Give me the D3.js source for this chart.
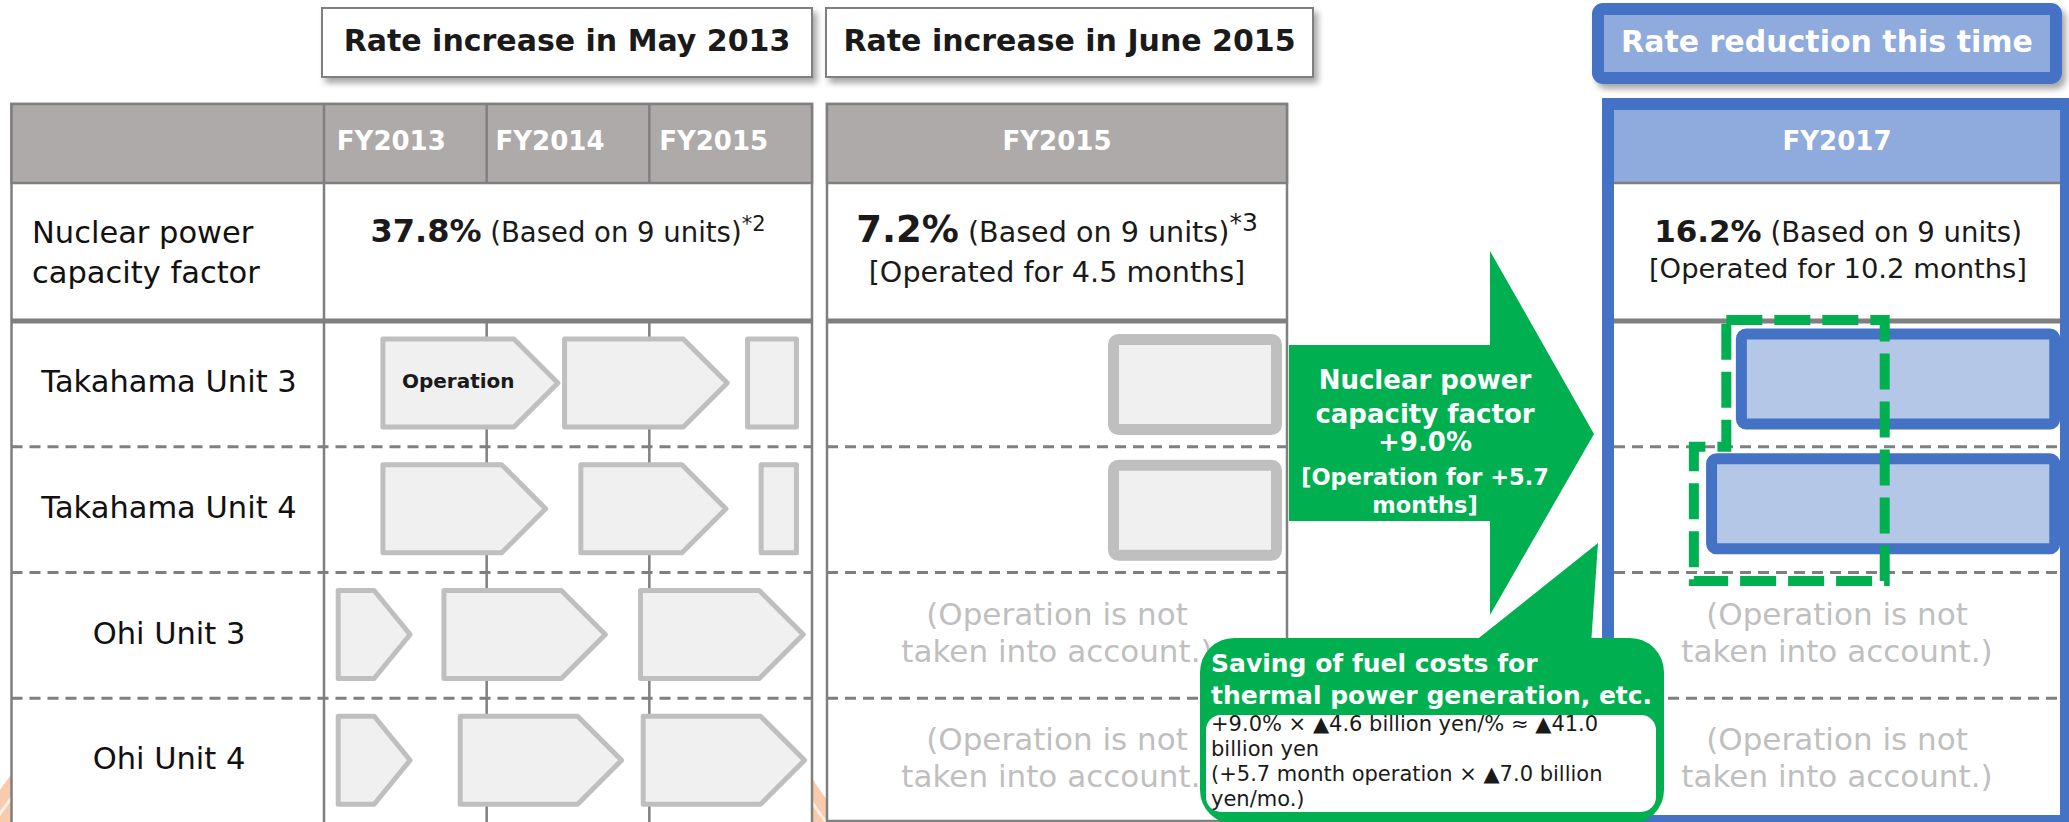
<!DOCTYPE html>
<html><head><meta charset="utf-8">
<script src="https://cdn.jsdelivr.net/npm/d3@7"></script>
<style>html,body{margin:0;padding:0;background:#fff;overflow:hidden}svg{display:block;font-family:"DejaVu Sans",Verdana,sans-serif}</style>
</head><body>
<svg id="c" width="2069" height="822"></svg>
<script>
// ---------------- data ----------------
const periodTitles = ["Rate increase in May 2013", "Rate increase in June 2015", "Rate reduction this time"];
const fyCols2013 = ["FY2013", "FY2014", "FY2015"];
const fyCol2015 = ["FY2015"];
const fyCol2017 = ["FY2017"];
const units = ["Takahama Unit 3", "Takahama Unit 4", "Ohi Unit 3", "Ohi Unit 4"];
const capLabel = ["Nuclear power", "capacity factor"];
const capFactor = ["37.8%", "7.2%", "16.2%"];
const capBasis = ["(Based on 9 units)", "(Based on 9 units)", "(Based on 9 units)"];
const capNote = ["*2", "*3", ""];
const capMonths = ["", "[Operated for 4.5 months]", "[Operated for 10.2 months]"];
// operation periods in months from April 2013 (FY2013-FY2015 columns)
const seg13Unit  = [0, 0, 0, 1, 1, 1, 2, 2, 2, 3, 3, 3];
const seg13Start = [4.2, 17.6, 31.1, 4.2, 18.8, 32.1, 0.9, 8.7, 23.2, 0.9, 9.9, 23.4];
const seg13End   = [17.4, 29.9, 35.0, 16.5, 29.8, 35.0, 6.5, 20.9, 35.5, 6.5, 22.1, 35.6];
const seg13Arrow = [1, 1, 0, 1, 1, 0, 1, 1, 1, 1, 1, 1];
const seg13Label = ["Operation", "", "", "", "", "", "", "", "", "", "", ""];
// operation in FY2015 (months from April 2015)
const seg15Unit = [0, 1];
const seg15Start = [7.33, 7.33];
const seg15End = [11.87, 11.87];
// operation in FY2017 (months from April 2017)
const seg17Unit = [0, 1];
const seg17Start = [3.35, 2.57];
const seg17End = [11.85, 11.85];
const notConsidered = ["(Operation is not", "taken into account.)"];
const notUnits = [2, 3];
const arrowText = ["Nuclear power", "capacity factor", "+9.0%", "[Operation for +5.7", "months]"];
const calloutTitle = ["Saving of fuel costs for", "thermal power generation, etc."];
const calloutBody = ["+9.0% \u00d7 \u25b24.6 billion yen/% \u2248 \u25b241.0", "billion yen", "(+5.7 month operation \u00d7 \u25b27.0 billion", "yen/mo.)"];
// added operation region (months in FY2017 table)
const addedStartUpper = 3.1, addedStartLower = 2.25, addedEnd = 7.25;

// ---------------- drawing ----------------
const svg = d3.select("#c");
const GREEN = "#00B050", BLUE = "#4472C4", LBLUE = "#8FAADC", BARBLUE = "#B4C7E7";
const HDR = "#AEAAAA", LINE = "#7F7F7F", GREYS = "#BFBFBF", GFILL = "#F0F0F0";

const defs = svg.append("defs");
const f = defs.append("filter").attr("id", "sh").attr("x", "-10%").attr("y", "-20%").attr("width", "130%").attr("height", "160%");
f.append("feDropShadow").attr("dx", 4).attr("dy", 5).attr("stdDeviation", 3).attr("flood-color", "#000").attr("flood-opacity", 0.35);

// background decoration
svg.append("circle").attr("cx", 410).attr("cy", 1076).attr("r", 500).attr("fill", "#F8CBAD");
svg.append("circle").attr("cx", 410).attr("cy", 1100).attr("r", 500).attr("fill", "none").attr("stroke", "#fff").attr("stroke-width", 3).attr("opacity", 0.7);

// scales
const yRow = d3.scaleBand().domain(units).range([321, 824]);
const x13 = d3.scaleLinear().domain([0, 36]).range([324, 812]);
const x15 = d3.scaleLinear().domain([0, 12]).range([827, 1287]);
const x17 = d3.scaleLinear().domain([0, 12]).range([1608, 2066]);
const colBand13 = d3.scaleBand().domain(fyCols2013).range([324, 812]);
const labelShift13 = [-14, -18, -17];

// ---- title boxes
const titleBoxes = [{x0: 322, x1: 812}, {x0: 826, x1: 1313}];
titleBoxes.forEach((b, i) => {
  svg.append("rect").attr("x", b.x0).attr("y", 8).attr("width", b.x1 - b.x0).attr("height", 69)
    .attr("fill", "#fff").attr("stroke", LINE).attr("stroke-width", 2).attr("filter", "url(#sh)");
  svg.append("text").attr("x", (b.x0 + b.x1) / 2).attr("y", 51).attr("text-anchor", "middle")
    .attr("font-size", 30).attr("font-weight", "bold").attr("fill", "#1a1a1a").text(periodTitles[i]);
});
svg.append("rect").attr("x", 1598).attr("y", 9).attr("width", 458).attr("height", 69).attr("rx", 5)
  .attr("fill", LBLUE).attr("stroke", BLUE).attr("stroke-width", 12).attr("filter", "url(#sh)");
svg.append("text").attr("x", 1827).attr("y", 52).attr("text-anchor", "middle")
  .attr("font-size", 30).attr("font-weight", "bold").attr("fill", "#fff").text(periodTitles[2]);

// ---- generic table frame
function dashed(g, x0, x1, y) {
  g.append("line").attr("x1", x0).attr("x2", x1).attr("y1", y).attr("y2", y)
    .attr("stroke", LINE).attr("stroke-width", 3).attr("stroke-dasharray", "11,7");
}

// Table 1
const t1 = svg.append("g");
t1.append("rect").attr("x", 11.5).attr("y", 104).attr("width", 800.5).attr("height", 740).attr("fill", "#fff").attr("stroke", LINE).attr("stroke-width", 2.5);
t1.append("rect").attr("x", 11.5).attr("y", 104).attr("width", 800.5).attr("height", 79).attr("fill", HDR).attr("stroke", LINE).attr("stroke-width", 2.5);
yRow.domain().slice(1).forEach(u => dashed(t1, 11.5, 812, yRow(u)));
t1.append("line").attr("x1", 324).attr("x2", 324).attr("y1", 104).attr("y2", 830).attr("stroke", LINE).attr("stroke-width", 2.5);
fyCols2013.slice(1).forEach(c => {
  const xx = colBand13(c);
  t1.append("line").attr("x1", xx).attr("x2", xx).attr("y1", 104).attr("y2", 183).attr("stroke", LINE).attr("stroke-width", 2.5);
  t1.append("line").attr("x1", xx).attr("x2", xx).attr("y1", 321).attr("y2", 830).attr("stroke", LINE).attr("stroke-width", 2.5);
});
t1.append("line").attr("x1", 11.5).attr("x2", 812).attr("y1", 321).attr("y2", 321).attr("stroke", LINE).attr("stroke-width", 5);
fyCols2013.forEach((c, i) => t1.append("text").attr("x", colBand13(c) + colBand13.bandwidth() / 2 + labelShift13[i])
  .attr("y", 150).attr("text-anchor", "middle").attr("font-size", 26).attr("font-weight", "bold").attr("fill", "#fff").text(c));
capLabel.forEach((l, i) => t1.append("text").attr("x", 32).attr("y", 243 + i * 40).attr("font-size", 30.5).attr("fill", "#111").text(l));
units.forEach(u => t1.append("text").attr("x", 169).attr("y", yRow(u) + 71).attr("text-anchor", "middle").attr("font-size", 30.5).attr("fill", "#111").text(u));

// Table 2
const t2 = svg.append("g");
t2.append("rect").attr("x", 827).attr("y", 104).attr("width", 460).attr("height", 717).attr("fill", "#fff").attr("stroke", LINE).attr("stroke-width", 2.5);
t2.append("rect").attr("x", 827).attr("y", 104).attr("width", 460).attr("height", 79).attr("fill", HDR).attr("stroke", LINE).attr("stroke-width", 2.5);
yRow.domain().slice(1).forEach(u => dashed(t2, 827, 1287, yRow(u)));
t2.append("line").attr("x1", 827).attr("x2", 1287).attr("y1", 321).attr("y2", 321).attr("stroke", LINE).attr("stroke-width", 5);
t2.append("text").attr("x", 1057).attr("y", 150).attr("text-anchor", "middle").attr("font-size", 26).attr("font-weight", "bold").attr("fill", "#fff").text(fyCol2015[0]);

// Table 3
const t3 = svg.append("g");
t3.append("rect").attr("x", 1608).attr("y", 104).attr("width", 458).attr("height", 717).attr("fill", "#fff");
t3.append("rect").attr("x", 1608).attr("y", 104).attr("width", 458).attr("height", 79).attr("fill", LBLUE);
t3.append("line").attr("x1", 1608).attr("x2", 2066).attr("y1", 183).attr("y2", 183).attr("stroke", LINE).attr("stroke-width", 2.5);
yRow.domain().slice(1).forEach(u => dashed(t3, 1614, 2060, yRow(u)));
t3.append("line").attr("x1", 1608).attr("x2", 2066).attr("y1", 321).attr("y2", 321).attr("stroke", LINE).attr("stroke-width", 5);
t3.append("text").attr("x", 1837).attr("y", 150).attr("text-anchor", "middle").attr("font-size", 26).attr("font-weight", "bold").attr("fill", "#fff").text(fyCol2017[0]);

// capacity factor cells
const capCenters = [568, 1057, 1838];
const capBold = [32, 37, 31];
const capReg = [27.5, 28.6, 27.5];
const capSupSize = [21, 25, 0];
capFactor.forEach((v, i) => {
  const t = svg.append("text").attr("x", capCenters[i]).attr("y", 242).attr("text-anchor", "middle").attr("fill", "#1a1a1a");
  t.append("tspan").attr("font-weight", "bold").attr("font-size", capBold[i]).text(v);
  t.append("tspan").attr("font-size", capReg[i]).text(" " + capBasis[i]);
  if (capNote[i]) t.append("tspan").attr("font-size", capSupSize[i]).attr("dy", -11).text(capNote[i]);
  if (capMonths[i]) svg.append("text").attr("x", capCenters[i]).attr("y", i === 1 ? 282 : 278).attr("text-anchor", "middle")
    .attr("font-size", i === 1 ? 28.6 : 27.4).attr("fill", "#1a1a1a").text(capMonths[i]);
});

// ---- grey operation arrows (table 1)
function arrowPath(x0, x1, y0, y1, isArrow) {
  const tip = isArrow ? Math.min(44, (x1 - x0) / 2) : 0;
  const ym = (y0 + y1) / 2;
  return isArrow ? `M${x0},${y0}H${x1 - tip}L${x1},${ym}L${x1 - tip},${y1}H${x0}Z` : `M${x0},${y0}H${x1}V${y1}H${x0}Z`;
}
const g13 = svg.append("g");
seg13Unit.forEach((u, i) => {
  const yt = yRow(units[u]);
  g13.append("path").attr("d", arrowPath(x13(seg13Start[i]) + 2, x13(seg13End[i]) - 2, yt + 18, yt + 106, seg13Arrow[i]))
    .attr("fill", GFILL).attr("stroke", GREYS).attr("stroke-width", 5).attr("stroke-linejoin", "round");
  if (seg13Label[i]) g13.append("text").attr("x", x13(seg13Start[i]) + 21).attr("y", yt + 67).attr("font-size", 20)
    .attr("font-weight", "bold").attr("fill", "#1a1a1a").text(seg13Label[i]);
});

// table 2 operation boxes
seg15Unit.forEach((u, i) => {
  const yt = yRow(units[u]);
  svg.append("rect").attr("x", x15(seg15Start[i]) + 5.5).attr("y", yt + 18.5).attr("width", x15(seg15End[i]) - x15(seg15Start[i]) - 11)
    .attr("height", 90).attr("rx", 5).attr("fill", GFILL).attr("stroke", GREYS).attr("stroke-width", 11);
});
// table 3 operation boxes
seg17Unit.forEach((u, i) => {
  const yt = yRow(units[u]);
  svg.append("rect").attr("x", x17(seg17Start[i]) + 5.5).attr("y", yt + 18 - (i === 1 ? 6 : 5)).attr("width", x17(seg17End[i]) - x17(seg17Start[i]) - 11)
    .attr("height", 90).attr("rx", 5).attr("fill", BARBLUE).attr("stroke", BLUE).attr("stroke-width", 11);
});

// not considered notes
[1057, 1837].forEach(cx => notUnits.forEach(u => {
  const yt = yRow(units[u]);
  notConsidered.forEach((l, k) => svg.append("text").attr("x", cx).attr("y", yt + 52 + k * 37).attr("text-anchor", "middle")
    .attr("font-size", 31).attr("fill", GREYS).text(l));
}));

// table 3 blue frame on top
svg.append("rect").attr("x", 1608).attr("y", 104).attr("width", 458).attr("height", 717).attr("fill", "none").attr("stroke", BLUE).attr("stroke-width", 12);

// green dashed added region
const yTopD = 320, yStep = yRow(units[1]), yBotD = 581;
svg.append("path")
  .attr("d", `M${x17(addedStartUpper)},${yTopD}H${x17(addedEnd)}V${yBotD}H${x17(addedStartLower)}V${yStep}H${x17(addedStartUpper)}Z`)
  .attr("fill", "none").attr("stroke", GREEN).attr("stroke-width", 10).attr("stroke-dasharray", "36,12");

// big green arrow
svg.append("path").attr("d", "M1289,345H1490V251L1594,434L1490,615V521H1289Z").attr("fill", GREEN);
const arrowSizes = [26, 26, 26, 22.5, 22.5];
const arrowY = [389, 423, 451, 485, 513];
arrowText.forEach((l, i) => svg.append("text").attr("x", 1425).attr("y", arrowY[i]).attr("text-anchor", "middle")
  .attr("font-size", arrowSizes[i]).attr("font-weight", "bold").attr("fill", "#fff").text(l));

// callout
svg.append("path").attr("d", "M1470,645L1598,543L1591,645Z").attr("fill", GREEN);
svg.append("rect").attr("x", 1200).attr("y", 638).attr("width", 464).attr("height", 186).attr("rx", 34).attr("fill", GREEN);
svg.append("rect").attr("x", 1206).attr("y", 715).attr("width", 450).attr("height", 97).attr("rx", 15).attr("fill", "#fff");
calloutTitle.forEach((l, i) => svg.append("text").attr("x", 1211).attr("y", 672 + i * 32).attr("font-size", 25)
  .attr("font-weight", "bold").attr("fill", "#fff").text(l));
calloutBody.forEach((l, i) => svg.append("text").attr("x", 1211).attr("y", 731 + i * 25).attr("font-size", 21)
  .attr("fill", "#1a1a1a").text(l));
</script>
</body></html>
